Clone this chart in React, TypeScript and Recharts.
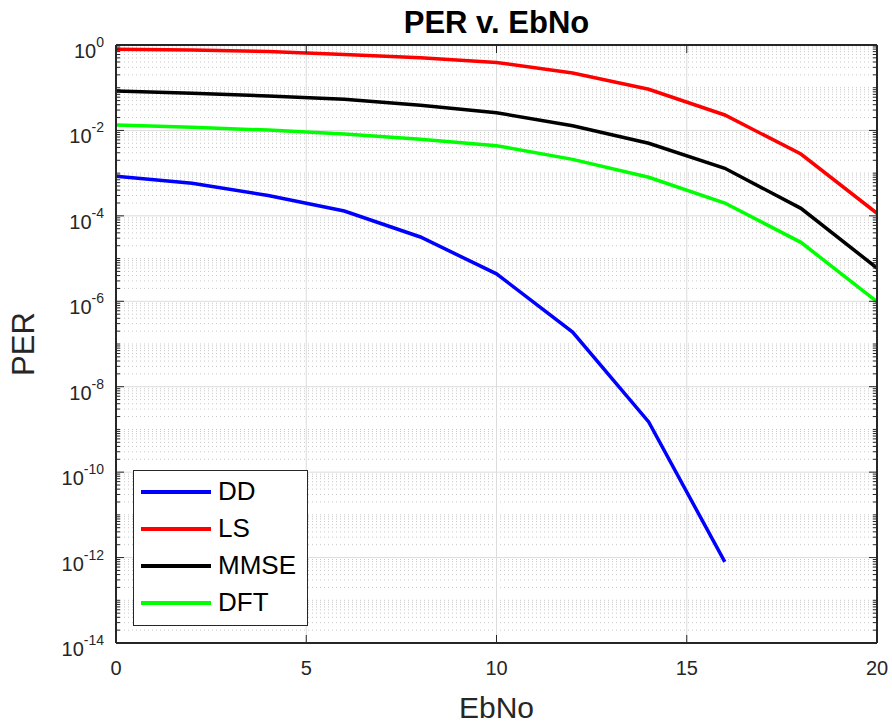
import React from "react";
import {
  LineChart,
  Line,
  XAxis,
  YAxis,
  CartesianGrid,
  Legend,
  Label,
} from "recharts";

// Eb/No sweep (dB) and packet error rate per channel estimator
const ebno = [0, 2, 4, 6, 8, 10, 12, 14, 16, 18, 20];
const dd = [8.5e-4, 5.8e-4, 3.0e-4, 1.3e-4, 3.2e-5, 4.4e-6, 1.9e-7, 1.5e-9, 7.9e-13];
const ls = [0.8, 0.76, 0.7, 0.6, 0.5, 0.39, 0.22, 0.092, 0.023, 0.0028, 1.15e-4];
const mmse = [0.084, 0.074, 0.064, 0.054, 0.039, 0.026, 0.0129, 0.005, 0.0013, 1.5e-4, 6e-6];
const dft = [0.0134, 0.0118, 0.0102, 0.0083, 0.0062, 0.0044, 0.0021, 8e-4, 2e-4, 2.4e-5, 9.8e-7];

const seriesNames = ["DD", "LS", "MMSE", "DFT"];
const seriesColors = ["#0000ff", "#ff0000", "#000000", "#00ff00"];

const xTicks = [0, 5, 10, 15, 20];
const yMajorExp = [0, -2, -4, -6, -8, -10, -12, -14];

const W = 892;
const H = 724;
const AXIS = "#262626";
const FONT = "'Liberation Sans', Arial, Helvetica, sans-serif";

// log ticks: labelled every other decade, minor at 1..9 x 10^k in between
const yMajor = yMajorExp.map((e) => Math.pow(10, e));
const yMinor: number[] = [];
for (let e = -14; e < 0; e++) {
  for (let m = 1; m <= 9; m++) {
    if (m === 1 && e % 2 === 0) continue;
    yMinor.push(m * Math.pow(10, e));
  }
}
const yAll = [...yMajor, ...yMinor];

const isMajor = (v: number) => {
  const l = Math.log10(v);
  const r = Math.round(l);
  return Math.abs(l - r) < 1e-9 && r % 2 === 0;
};

const rows = ebno.map((x, i) => ({
  x,
  DD: dd[i] ?? null,
  LS: ls[i] ?? null,
  MMSE: mmse[i] ?? null,
  DFT: dft[i] ?? null,
}));

function LeftTick(props: any) {
  const { x, y, payload } = props;
  const v = payload.value;
  const major = isMajor(v);
  return (
    <g>
      <line x1={x} x2={x + (major ? 8 : 4)} y1={y} y2={y} stroke={AXIS} strokeWidth={1} />
      {major && (
        <text x={x - 12} y={y + 13} textAnchor="end" fill={AXIS} fontSize={20} fontFamily={FONT}>
          10
          <tspan dy={-11} fontSize={14}>
            {Math.round(Math.log10(v))}
          </tspan>
        </text>
      )}
    </g>
  );
}

function RightTick(props: any) {
  const { x, y, payload } = props;
  const major = isMajor(payload.value);
  return <line x1={x} x2={x - (major ? 8 : 4)} y1={y} y2={y} stroke={AXIS} strokeWidth={1} />;
}

function BottomTick(props: any) {
  const { x, y, payload } = props;
  return (
    <g>
      <line x1={x} x2={x} y1={y} y2={y - 8} stroke={AXIS} strokeWidth={1} />
      <text x={x} y={y + 32} textAnchor="middle" fill={AXIS} fontSize={20} fontFamily={FONT}>
        {payload.value}
      </text>
    </g>
  );
}

function TopTick(props: any) {
  const { x, y } = props;
  return <line x1={x} x2={x} y1={y} y2={y + 8} stroke={AXIS} strokeWidth={1} />;
}

function LegendBox(props: any) {
  // keep plotting order, not recharts' sorted order
  const items = [...(props.payload || [])].sort(
    (a: any, b: any) => seriesNames.indexOf(a.value) - seriesNames.indexOf(b.value)
  );
  return (
    <div
      style={{
        width: 173,
        background: "#fff",
        border: `1px solid ${AXIS}`,
        padding: "2px 0 4px 0",
        fontFamily: FONT,
        fontSize: 26,
        color: "#000",
      }}
    >
      {items.map((it: any) => (
        <div key={it.value} style={{ display: "flex", alignItems: "center", height: 37 }}>
          <svg width={84} height={10} style={{ flex: "none" }}>
            <line x1={7} x2={77} y1={5} y2={5} stroke={it.color} strokeWidth={4} />
          </svg>
          <span>{it.value}</span>
        </div>
      ))}
    </div>
  );
}

export default function App() {
  const series = [dd, ls, mmse, dft];
  return (
    <div style={{ position: "absolute", left: 0, top: 0, width: W, height: H, background: "#fff" }}>
      <div
        style={{
          position: "absolute",
          left: 0,
          width: W,
          top: 6,
          paddingLeft: 116,
          paddingRight: 15,
          boxSizing: "border-box",
          textAlign: "center",
          fontFamily: FONT,
          fontWeight: "bold",
          fontSize: 31,
          color: "#000",
          lineHeight: "34px",
        }}
      >
        PER v. EbNo
      </div>
      <LineChart width={W} height={H} data={rows} margin={{ top: 35, right: 5, bottom: 0, left: 0 }}>
        <CartesianGrid
          horizontal
          vertical={false}
          horizontalValues={yMinor}
          stroke="#c9c9c9"
          strokeDasharray="1 3"
        />
        <CartesianGrid horizontalValues={yMajor} verticalValues={[5, 10, 15]} stroke="#dcdcdc" />
        <XAxis
          dataKey="x"
          type="number"
          domain={[0, 20]}
          ticks={xTicks}
          interval={0}
          allowDataOverflow
          height={81}
          tickSize={0}
          tickMargin={0}
          tickLine={false}
          axisLine={{ stroke: AXIS, strokeWidth: 2 }}
          tick={<BottomTick />}
        >
          <Label
            value="EbNo"
            position="insideBottom"
            offset={6}
            style={{ fontSize: 30, fontFamily: FONT, fill: AXIS }}
          />
        </XAxis>
        <XAxis
          xAxisId="top"
          orientation="top"
          dataKey="x"
          type="number"
          domain={[0, 20]}
          ticks={xTicks}
          interval={0}
          allowDataOverflow
          height={10}
          tickSize={0}
          tickMargin={0}
          tickLine={false}
          axisLine={{ stroke: AXIS, strokeWidth: 2 }}
          tick={<TopTick />}
        />
        <YAxis
          scale="log"
          type="number"
          domain={[1e-14, 1]}
          ticks={yAll}
          interval={0}
          allowDataOverflow
          width={116}
          tickSize={0}
          tickMargin={0}
          tickLine={false}
          axisLine={{ stroke: AXIS, strokeWidth: 2 }}
          tick={<LeftTick />}
        >
          <Label
            content={(p: any) => {
              const vb = p.viewBox;
              const cx = vb.x + 23;
              const cy = vb.y + vb.height / 2;
              return (
                <text
                  x={cx}
                  y={cy}
                  transform={`rotate(-90 ${cx} ${cy})`}
                  textAnchor="middle"
                  dominantBaseline="central"
                  fontSize={31}
                  fontFamily={FONT}
                  fill={AXIS}
                >
                  PER
                </text>
              );
            }}
          />
        </YAxis>
        <YAxis
          yAxisId="right"
          orientation="right"
          scale="log"
          type="number"
          domain={[1e-14, 1]}
          ticks={yAll}
          interval={0}
          allowDataOverflow
          width={10}
          tickSize={0}
          tickMargin={0}
          tickLine={false}
          axisLine={{ stroke: AXIS, strokeWidth: 2 }}
          tick={<RightTick />}
        />
        <Legend
          layout="vertical"
          align="center"
          verticalAlign="middle"
          wrapperStyle={{ left: 133, top: 470, width: "auto" }}
          content={<LegendBox />}
        />
        {seriesNames.map((name, i) => (
          <Line
            key={name}
            dataKey={name}
            name={name}
            stroke={seriesColors[i]}
            strokeWidth={3.5}
            dot={false}
            isAnimationActive={false}
            hide={series[i].length === 0}
          />
        ))}
      </LineChart>
    </div>
  );
}
